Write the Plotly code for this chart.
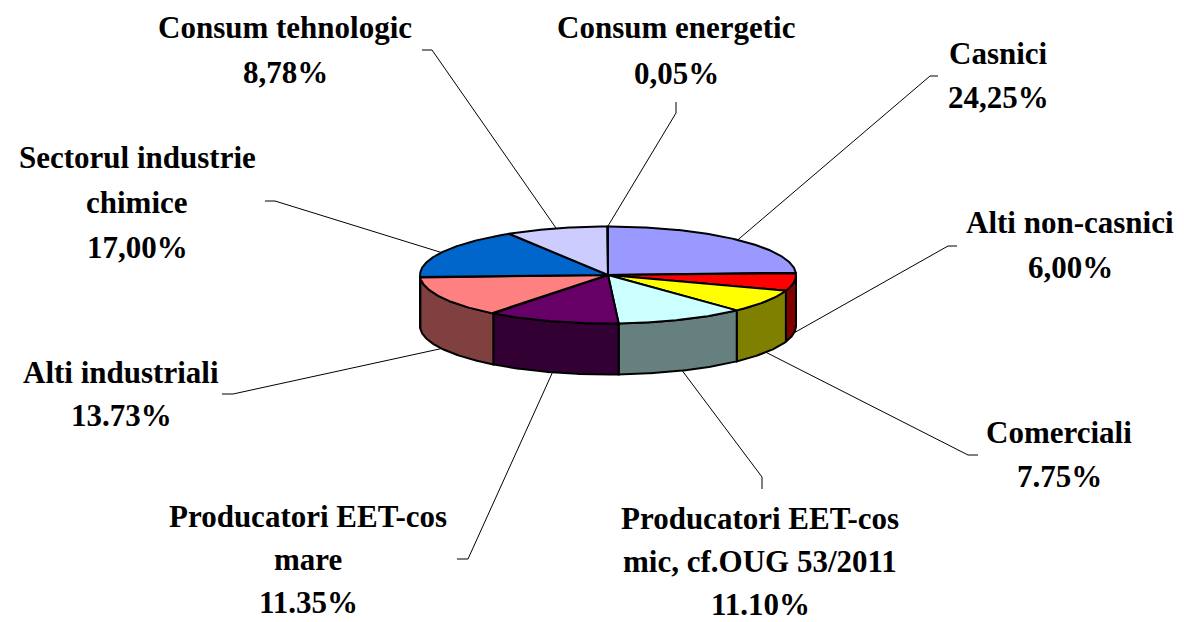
import numpy as np
import plotly.graph_objects as go

# ---- data ----
labels = ["Casnici", "Alti non-casnici", "Comerciali",
          "Producatori EET-cos mic, cf.OUG 53/2011", "Producatori EET-cos mare",
          "Alti industriali", "Sectorul industrie chimice",
          "Consum tehnologic", "Consum energetic"]
values = [24.25, 6.00, 7.75, 11.10, 11.35, 13.73, 17.00, 8.78, 0.05]
pct_text = ["24,25%", "6,00%", "7.75%", "11.10%", "11.35%", "13.73%", "17,00%", "8,78%", "0,05%"]
label_lines = [["Casnici"], ["Alti non-casnici"], ["Comerciali"],
               ["Producatori EET-cos", "mic, cf.OUG 53/2011"],
               ["Producatori EET-cos", "mare"], ["Alti industriali"],
               ["Sectorul industrie", "chimice"], ["Consum tehnologic"], ["Consum energetic"]]
top_colors = ["#9999FF", "#FF0000", "#FFFF00", "#CCFFFF", "#660066",
              "#FF8080", "#0066CC", "#CCCCFF", "#000080"]
side_colors = ["#4D4D80", "#800000", "#808000", "#668080", "#330033",
               "#804040", "#003366", "#666680", "#000040"]

# ---- layout geometry (pixels) ----
W, H = 1184, 622
CX, CY, RX, RY, DEPTH = 608, 275, 188, 48.5, 51
# label centre (x, y of first line), line gap
label_pos = [(998, 53), (1070, 222), (1059, 432), (760, 518), (308, 516),
             (121, 372), (137, 157), (285, 27), (676, 27)]
line_gaps = [44, 45, 44, 43, 43, 43, 45, 45, 46]
leader_start = [(938, 76), (957, 246), (978, 455), (762, 489), (457, 559),
                (222, 394), (265, 201), (422, 50), (676, 102)]
leader_elbow = [(930, 76), (948, 246), (968, 455), (762, 477), (468, 559),
                (233, 394), (275, 201), (432, 50), (676, 113)]


def ell(theta_deg, bottom=False):
    t = np.radians(theta_deg)
    x = CX + RX * np.sin(t)
    y = CY - RY * np.cos(t) + (DEPTH if bottom else 0)
    return x, y


total = sum(values)
angles = np.cumsum([0] + [v / total * 360 for v in values])

fig = go.Figure()

# side walls (front half: 90..270 degrees)
for i in range(len(values)):
    a, b = max(angles[i], 90), min(angles[i + 1], 270)
    if a >= b:
        continue
    th = np.linspace(a, b, max(4, int((b - a) * 2)))
    xt, yt = ell(th)
    xb, yb = ell(th[::-1], bottom=True)
    fig.add_trace(go.Scatter(x=np.concatenate([xt, xb, xt[:1]]),
                             y=np.concatenate([yt, yb, yt[:1]]),
                             mode="lines", fill="toself", fillcolor=side_colors[i],
                             line=dict(color="black", width=2), hoverinfo="skip"))

# top faces
for i in range(len(values)):
    a, b = angles[i], angles[i + 1]
    th = np.linspace(a, b, max(3, int((b - a) * 2)))
    xt, yt = ell(th)
    fig.add_trace(go.Scatter(x=np.concatenate([[CX], xt, [CX]]),
                             y=np.concatenate([[CY], yt, [CY]]),
                             mode="lines", fill="toself", fillcolor=top_colors[i],
                             line=dict(color="black", width=2), hoverinfo="skip"))

# leader lines and labels
font = dict(family="Liberation Serif, Times New Roman, Tinos, serif",
            size=31, color="black", weight="bold")
for i in range(len(values)):
    mid = (angles[i] + angles[i + 1]) / 2
    front = 90 < mid < 270
    ex, ey = ell(mid, bottom=front)
    sx, sy = leader_start[i]
    bx, by = leader_elbow[i]
    fig.add_trace(go.Scatter(x=[sx, bx, ex], y=[sy, by, ey], mode="lines",
                             line=dict(color="black", width=1), hoverinfo="skip"))
    lx, ly = label_pos[i]
    lines = label_lines[i] + [pct_text[i]]
    for k, t in enumerate(lines):
        fig.add_annotation(x=lx, y=ly + k * line_gaps[i], text=t, showarrow=False,
                           xanchor="center", yanchor="middle", font=font)

fig.update_xaxes(range=[0, W], visible=False)
fig.update_yaxes(range=[H, 0], visible=False)
fig.update_layout(width=W, height=H, margin=dict(l=0, r=0, t=0, b=0),
                  plot_bgcolor="white", paper_bgcolor="white",
                  showlegend=False, hovermode=False)
fig.write_html("out.html", config={"displayModeBar": False},
               post_script="document.body.style.margin='0';document.body.style.overflow='hidden';")
